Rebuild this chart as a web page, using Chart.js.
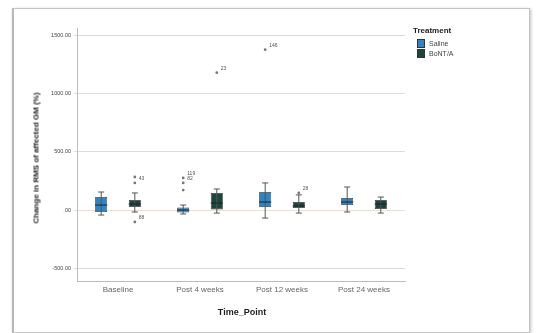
<!DOCTYPE html>
<html>
<head>
<meta charset="utf-8">
<script src="https://cdn.jsdelivr.net/npm/chart.js@4.4.1/dist/chart.umd.min.js"></script>
<style>
  html, body { margin: 0; padding: 0; background: #fff; }
  #wrap { position: relative; width: 540px; height: 333px; font-family: "Liberation Sans", Arial, sans-serif; }
  #frame { position: absolute; left: 12px; top: 8px; width: 515px; height: 323px; border: 1px solid #c4c4c4; border-left: 2px solid #b8b8b8; box-shadow: 1px 1px 3px rgba(0,0,0,0.25); }
  canvas { position: absolute; left: 0; top: 0; }
  .ytitle { position: absolute; left: 36px; top: 158px; transform: translate(-50%, -50%) rotate(-90deg); font-size: 8px; font-weight: bold; color: #222; white-space: nowrap; }
  .xtitle { position: absolute; left: 242px; top: 312px; transform: translate(-50%, -50%); font-size: 9px; font-weight: bold; color: #222; white-space: nowrap; }
  .legend { position: absolute; left: 413px; top: 26px; font-size: 7px; color: #444; }
  .legend .head { font-weight: bold; font-size: 8px; color: #222; margin-bottom: 4px; }
  .legend .item { display: flex; align-items: center; height: 9.5px; margin-left: 4px; }
  .legend .sw { width: 6px; height: 7px; margin-right: 4px; border: 0.5px solid #333; }
</style>
</head>
<body>
<div id="wrap">
  <div id="frame"></div>
  <canvas id="c" width="540" height="333"></canvas>
  <div class="ytitle">Change in RMS of affected GM (%)</div>
  <div class="xtitle">Time_Point</div>
  <div class="legend">
    <div class="head">Treatment</div>
    <div class="item"><span class="sw" id="swSaline"></span>Saline</div>
    <div class="item"><span class="sw" id="swBont"></span>BoNT/A</div>
  </div>
</div>
<script>
// Time points and tick values
const categories = ['Baseline', 'Post 4 weeks', 'Post 12 weeks', 'Post 24 weeks'];
const yTicks = [-500, 0, 500, 1000, 1500];

// Saline group: box statistics per time point
const salineMin    = [-43, -34, -69, -17];
const salineQ1     = [-17, -22, 26, 43];
const salineMedian = [43, 0, 69, 69];
const salineQ3     = [112, 22, 155, 103];
const salineMax    = [155, 43, 233, 198];
const salineOutliers = [[], [[172, ''], [233, '82'], [276, '119']], [[1379, '146']], []];

// BoNT/A group: box statistics per time point
const bontMin    = [-17, -26, -26, -26];
const bontQ1     = [26, 0, 17, 9];
const bontMedian = [52, 60, 35, 52];
const bontQ3     = [86, 147, 69, 86];
const bontMax    = [147, 181, 130, 112];
const bontOutliers = [[[233, '43'], [284, ''], [-103, '88']], [[1181, '23']], [[147, '28']], []];

const salineColor = '#2b86c9';
const bontColor = '#1b463f';
document.getElementById('swSaline').style.background = salineColor;
document.getElementById('swBont').style.background = bontColor;

const groups = [
  { label: 'Saline', color: salineColor, min: salineMin, q1: salineQ1, med: salineMedian, q3: salineQ3, max: salineMax, out: salineOutliers },
  { label: 'BoNT/A', color: bontColor, min: bontMin, q1: bontQ1, med: bontMedian, q3: bontQ3, max: bontMax, out: bontOutliers }
];

// Whiskers, medians and outliers drawn on top of the floating bars
const boxExtras = {
  id: 'boxExtras',
  afterDatasetsDraw(chart) {
    const ctx = chart.ctx;
    const y = chart.scales.y;
    groups.forEach((g, di) => {
      const meta = chart.getDatasetMeta(di);
      meta.data.forEach((bar, i) => {
        const x = bar.x;
        const half = bar.width / 2;
        ctx.save();
        ctx.strokeStyle = '#555';
        ctx.lineWidth = 1;
        // whiskers
        ctx.beginPath();
        ctx.moveTo(x, y.getPixelForValue(g.q3));
        ctx.lineTo(x, y.getPixelForValue(g.max[i]));
        ctx.moveTo(x, y.getPixelForValue(g.q1));
        ctx.lineTo(x, y.getPixelForValue(g.min[i]));
        ctx.moveTo(x - half * 0.5, y.getPixelForValue(g.max[i]));
        ctx.lineTo(x + half * 0.5, y.getPixelForValue(g.max[i]));
        ctx.moveTo(x - half * 0.5, y.getPixelForValue(g.min[i]));
        ctx.lineTo(x + half * 0.5, y.getPixelForValue(g.min[i]));
        ctx.stroke();
        // median
        ctx.strokeStyle = '#222';
        ctx.lineWidth = 1;
        ctx.beginPath();
        ctx.moveTo(x - half, y.getPixelForValue(g.med[i]));
        ctx.lineTo(x + half, y.getPixelForValue(g.med[i]));
        ctx.stroke();
        // outliers with case labels
        ctx.font = '5px "Liberation Sans", Arial, sans-serif';
        ctx.fillStyle = '#555';
        ctx.textBaseline = 'middle';
        g.out[i].forEach(([v, lab]) => {
          const py = y.getPixelForValue(v);
          ctx.beginPath();
          ctx.arc(x, py, 1.4, 0, Math.PI * 2);
          ctx.fillStyle = '#777';
          ctx.fill();
          ctx.fillStyle = '#555';
          if (lab) ctx.fillText(lab, x + 4, py - 4);
        });
        ctx.restore();
      });
    });
  }
};

new Chart(document.getElementById('c'), {
  type: 'bar',
  data: {
    labels: categories,
    datasets: groups.map(g => ({
      label: g.label,
      data: g.q1.map((v, i) => [v, g.q3[i]]),
      backgroundColor: g.color,
      borderColor: '#3a3a3a',
      borderWidth: 0.8,
      borderSkipped: false,
      categoryPercentage: 0.82,
      barPercentage: 0.36
    }))
  },
  options: {
    responsive: false,
    animation: false,
    devicePixelRatio: 1,
    layout: { padding: { left: 0, right: 135, top: 28, bottom: 0 } },
    plugins: { legend: { display: false }, tooltip: { enabled: false } },
    scales: {
      x: {
        offset: true,
        grid: { display: false, drawTicks: false },
        border: { display: true, color: '#bbb' },
        ticks: { color: '#666', font: { size: 8, family: '"Liberation Sans", Arial, sans-serif' }, padding: 4, maxRotation: 0 },
        afterFit(scale) { scale.height = 52; }
      },
      y: {
        min: -610,
        max: 1565,
        afterBuildTicks(scale) { scale.ticks = yTicks.map(v => ({ value: v })); },
        grid: {
          color: ctx => (ctx.tick && ctx.tick.value === 0) ? 'rgba(245,195,170,0.6)' : '#dcdcdc',
          lineWidth: 1,
          drawTicks: true,
          tickLength: 3
        },
        border: { display: true, color: '#bbb' },
        ticks: {
          color: '#444',
          font: { size: 5.5, family: '"Liberation Sans", Arial, sans-serif' },
          padding: 3,
          callback: v => (v === 0 ? '.00' : v.toFixed(2))
        },
        afterFit(scale) { scale.width = 77; }
      }
    }
  },
  plugins: [boxExtras]
});
</script>
</body>
</html>
